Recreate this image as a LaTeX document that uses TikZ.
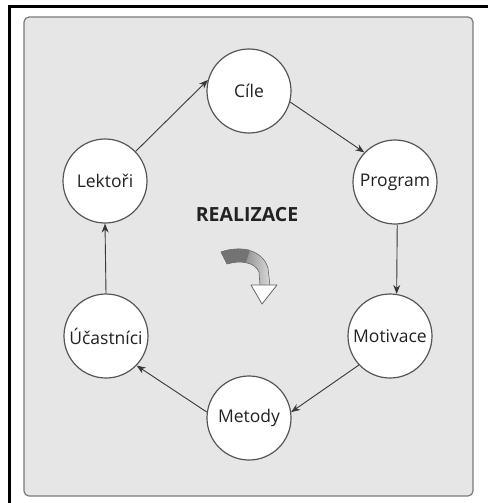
\documentclass[tikz,border=0pt]{standalone}
\usepackage{fontspec}
\setmainfont{Open Sans}
\usetikzlibrary{arrows.meta}
\definecolor{panel}{HTML}{E6E6E6}
\definecolor{panelrim}{HTML}{7A7A7A}
\definecolor{rim}{HTML}{555555}
\definecolor{ink}{HTML}{222222}
\tikzset{
  stage/.style={circle, draw=rim, line width=1.2pt, fill=white, minimum size=84pt, inner sep=0pt,
    font=\fontsize{17.5}{20}\selectfont, text=ink},
  flow/.style={draw=ink!90, line width=0.9pt, -{Stealth[length=9pt,width=7pt]}},
}
\begin{document}
\begin{tikzpicture}[x=1pt,y=-1pt]
\useasboundingbox (0,0) rectangle (488,503);
\fill[white] (0,0) rectangle (488,503);
% outer frame
\draw[black, line width=3pt] (8,6.5) -- (488,6.5);
\draw[black, line width=3pt] (9.5,5) -- (9.5,503);
% panel
\draw[panelrim, fill=panel, line width=1.2pt, rounded corners=5pt] (24,17) rectangle (473,496);
% stages
\node[stage] (cile) at (249,91) {Cíle};
\node[stage] (program) at (395,182) {Program};
\node[stage] (motivace) at (390,336) {Motivace};
\node[stage] (metody) at (249,418) {Metody};
\node[stage] (ucastnici) at (106,336) {Účastníci};
\node[stage] (lektori) at (105,181) {Lektoři};
% connectors
\draw[flow] (lektori.44) -- (cile.165);
\draw[flow] (cile.-15) -- (program.136);
\draw[flow] (program.-87) -- (motivace.81);
\draw[flow] (motivace.223) -- (metody.8);
\draw[flow] (metody.172) -- (ucastnici.-44);
\draw[flow] (ucastnici.90) -- (lektori.-90);
% title
\node[font=\fontsize{19.5}{22}\bfseries\selectfont, text=ink] (title) at (247,215) {REALIZACE};
% curved ribbon arrow
\shade[left color=black!70, right color=black!15, draw=black!60, line width=0.6pt]
  (221,252) .. controls (238,246) and (262,248) .. (268,268) -- (270,286) -- (260,286)
  -- (259,272) .. controls (255,262) and (240,260) .. (227,264) -- cycle;
\fill[black!55] (221,252) .. controls (232,248) and (242,248) .. (250,250) -- (246,262) .. controls (240,261) and (233,262) .. (227,264) -- cycle;
\draw[black!60, fill=white, line width=0.8pt, line join=round] (251,285) -- (277,285) -- (262,304) -- cycle;
\end{tikzpicture}
\end{document}
